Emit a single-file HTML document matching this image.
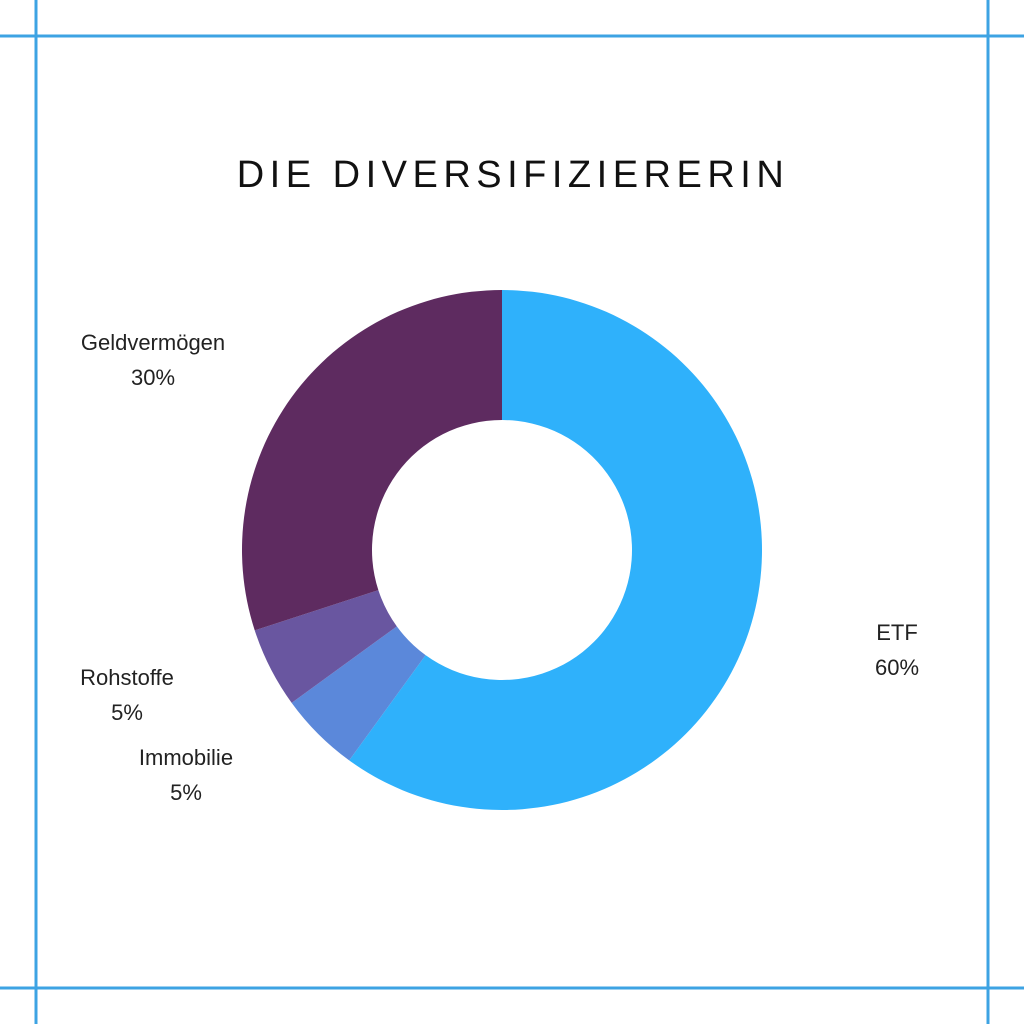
<!DOCTYPE html>
<html><head><meta charset="utf-8"><style>
body{margin:0;width:1024px;height:1024px;background:#fff;overflow:hidden;font-family:"Liberation Sans",sans-serif}
svg{display:block}
</style></head><body>
<svg width="1024" height="1024" viewBox="0 0 1024 1024">
<g stroke="#3da3e3" stroke-width="3">
<line x1="36" y1="0" x2="36" y2="1024"/><line x1="988" y1="0" x2="988" y2="1024"/>
<line x1="0" y1="36" x2="1024" y2="36"/><line x1="0" y1="988" x2="1024" y2="988"/>
</g>
<text x="513" y="187" text-anchor="middle" font-size="38" letter-spacing="5.5" fill="#111">DIE DIVERSIFIZIERERIN</text>
<g id="slices"></g>
<g id="labels" font-size="22" fill="#222" text-anchor="middle"></g>
</svg>
<script>
const categories=["ETF","Immobilie","Rohstoffe","Geldvermögen"];
const values=[60,5,5,30];
const colors=["#2fb1fb","#5b88da","#6956a0","#5e2b60"];
const labelPos=[[897,640],[186,765],[127,685],[153,350]];
const cx=502,cy=550,R=260,r=130;
const total=values.reduce((a,b)=>a+b,0);
const ns="http://www.w3.org/2000/svg";
const gs=document.getElementById('slices'),gl=document.getElementById('labels');
function pt(a,rad){return [cx+rad*Math.sin(a),cy-rad*Math.cos(a)];}
let acc=0;
values.forEach((v,i)=>{
 const a0=acc/total*2*Math.PI;acc+=v;const a1=acc/total*2*Math.PI;
 const large=(a1-a0)>Math.PI?1:0;
 const p0=pt(a0,R),p1=pt(a1,R),q1=pt(a1,r),q0=pt(a0,r);
 const p=document.createElementNS(ns,'path');
 p.setAttribute('d',`M${p0[0]},${p0[1]}A${R},${R} 0 ${large} 1 ${p1[0]},${p1[1]}L${q1[0]},${q1[1]}A${r},${r} 0 ${large} 0 ${q0[0]},${q0[1]}Z`);
 p.setAttribute('fill',colors[i]);
 
 
 gs.appendChild(p);
 const t=document.createElementNS(ns,'text');
 t.setAttribute('x',labelPos[i][0]);t.setAttribute('y',labelPos[i][1]);
 
 
 const s1=document.createElementNS(ns,'tspan');s1.setAttribute('x',labelPos[i][0]);s1.textContent=categories[i];
 const s2=document.createElementNS(ns,'tspan');s2.setAttribute('x',labelPos[i][0]);s2.setAttribute('dy','35');s2.textContent=v+'%';
 t.appendChild(s1);t.appendChild(s2);gl.appendChild(t);
});
</script>
</body></html>
